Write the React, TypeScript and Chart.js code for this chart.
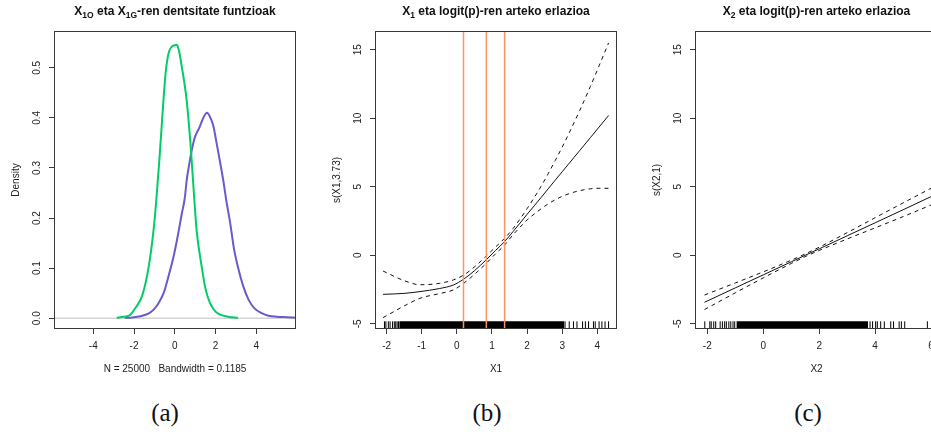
import React, { useEffect, useRef } from "react";
import { Chart, registerables } from "chart.js";

Chart.register(...registerables);

const FONT = '"Liberation Sans", Arial, Helvetica, sans-serif';

// ---------- Panel (a): densities ----------
const greenX = [-2.85, -2.5, -2.18, -1.94, -1.6, -1.28, -1.04, -0.9, -0.75, -0.6, -0.45, -0.3, -0.15, 0.0, 0.1, 0.2, 0.34, 0.58, 0.78, 0.96, 1.07, 1.32, 1.5, 1.73, 2.0, 2.23, 2.6, 3.1];
const greenY = [0.001, 0.003, 0.007, 0.02, 0.045, 0.103, 0.177, 0.24, 0.32, 0.41, 0.49, 0.53, 0.542, 0.545, 0.546, 0.535, 0.503, 0.436, 0.343, 0.236, 0.176, 0.103, 0.06, 0.03, 0.013, 0.007, 0.003, 0.001];
const purpleX = [-2.45, -2.18, -1.69, -1.3, -1.04, -0.8, -0.55, -0.3, -0.06, 0.15, 0.35, 0.48, 0.6, 0.72, 0.84, 1.0, 1.2, 1.4, 1.58, 1.75, 1.9, 2.05, 2.23, 2.4, 2.52, 2.72, 2.9, 3.13, 3.35, 3.62, 3.9, 4.27, 4.6, 5.0, 5.5, 5.95];
const purpleY = [0.0005, 0.001, 0.004, 0.009, 0.017, 0.03, 0.05, 0.085, 0.123, 0.165, 0.21, 0.237, 0.28, 0.31, 0.337, 0.363, 0.38, 0.4, 0.41, 0.4, 0.383, 0.35, 0.31, 0.27, 0.237, 0.19, 0.14, 0.097, 0.065, 0.037, 0.02, 0.01, 0.005, 0.003, 0.002, 0.001];
const aXRange = [-5.93, 5.95];
const aYRange = [-0.0216, 0.5735];
const aXTicks = [-4, -2, 0, 2, 4];
const aXTickLabels = ["-4", "-2", "0", "2", "4"];
const aYTicks = [0, 0.1, 0.2, 0.3, 0.4, 0.5];
const aYTickLabels = ["0.0", "0.1", "0.2", "0.3", "0.4", "0.5"];
const aZeroLineY = 0;

// ---------- Panel (b): s(X1) ----------
const bX = [-2.1, -1.5, -1.05, -0.5, -0.1, 0.19, 0.5, 0.84, 1.1, 1.36, 1.6, 1.8, 2.0, 2.2, 2.4, 2.6, 2.8, 3.0, 3.2, 3.5, 3.8, 4.05, 4.32];
const bFit = [-2.85, -2.78, -2.65, -2.43, -2.17, -1.75, -1.13, -0.32, 0.35, 1.0, 1.73, 2.35, 2.99, 3.6, 4.22, 4.85, 5.48, 6.1, 6.72, 7.65, 8.58, 9.36, 10.2];
const bUpper = [-1.15, -1.85, -2.15, -2.05, -1.8, -1.45, -0.85, -0.05, 0.6, 1.24, 1.95, 2.65, 3.4, 4.2, 5.04, 5.95, 6.91, 7.9, 8.94, 10.58, 12.31, 13.83, 15.5];
const bLower = [-4.55, -3.7, -3.14, -2.8, -2.53, -2.05, -1.4, -0.58, 0.1, 0.75, 1.5, 2.05, 2.58, 3.0, 3.4, 3.75, 4.05, 4.3, 4.5, 4.72, 4.85, 4.89, 4.89];
const bVLines = [0.19, 0.84, 1.36];
const bRugBand = [-1.64, 3.06];
const bRug = [-2.06, -2.02, -1.95, -1.9, -1.83, -1.78, -1.74, -1.7, -1.66, 3.08, 3.2, 3.32, 3.42, 3.58, 3.66, 3.75, 3.89, 3.94, 4.05, 4.13, 4.22, 4.32];
const bXRange = [-2.33, 4.56];
const bXTicks = [-2, -1, 0, 1, 2, 3, 4];
const bXTickLabels = ["-2", "-1", "0", "1", "2", "3", "4"];

// ---------- Panel (c): s(X2) ----------
const cX = [-2.1, -1, 0, 1, 1.5, 2, 3, 4, 5, 6];
const cFit = [-3.43, -2.38, -1.43, -0.48, 0.0, 0.47, 1.42, 2.37, 3.32, 4.28];
const cUpper = [-2.9, -2.02, -1.21, -0.36, 0.1, 0.59, 1.65, 2.74, 3.82, 4.89];
const cLower = [-3.96, -2.74, -1.65, -0.6, -0.1, 0.35, 1.19, 2.0, 2.82, 3.67];
const cRugBand = [-0.96, 3.75];
const cRug = [-2.09, -1.91, -1.86, -1.77, -1.7, -1.54, -1.46, -1.38, -1.32, -1.23, -1.16, -1.08, -1.02, 3.82, 3.91, 4.02, 4.08, 4.2, 4.33, 4.56, 4.66, 4.86, 4.94, 5.06, 5.87];
const cXRange = [-2.44, 6.25];
const cXTicks = [-2, 0, 2, 4, 6];
const cXTickLabels = ["-2", "0", "2", "4", "6"];

// shared y axis of (b) and (c)
const bcYRange = [-5.38, 16.37];
const bcYTicks = [-5, 0, 5, 10, 15];
const bcYTickLabels = ["-5", "0", "5", "10", "15"];
const rugTop = -4.82;

// ---------- Texts ----------
type Seg = { t: string; sub?: boolean };
const titleA: Seg[] = [{ t: "X" }, { t: "1O", sub: true }, { t: " eta X" }, { t: "1G", sub: true }, { t: "-ren dentsitate funtzioak" }];
const titleB: Seg[] = [{ t: "X" }, { t: "1", sub: true }, { t: " eta logit(p)-ren arteko erlazioa" }];
const titleC: Seg[] = [{ t: "X" }, { t: "2", sub: true }, { t: " eta logit(p)-ren arteko erlazioa" }];
const xTitleA = "N = 25000   Bandwidth = 0.1185";
const yTitleA = "Density";
const xTitleB = "X1";
const yTitleB = "s(X1,3.73)";
const xTitleC = "X2";
const yTitleC = "s(X2,1)";
const captions = ["(a)", "(b)", "(c)"];

// ---------- Colours ----------
const GREEN = "#00CD66";
const PURPLE = "#6A5ACD";
const ORANGE = "#FA9462";
const ZEROGRAY = "#BEBEBE";
const INK = "#3a3a3a";

const pts = (xs: number[], ys: number[]) => xs.map((x, i) => ({ x, y: ys[i] }));

function lineDs(data: any[], color: string, width: number, order: number, dash: number[] = [], smooth = true) {
  return {
    data,
    borderColor: color,
    backgroundColor: color,
    borderWidth: width,
    borderDash: dash,
    pointRadius: 0,
    fill: false,
    cubicInterpolationMode: smooth ? "monotone" : "default",
    tension: 0,
    order,
  };
}

function rugDatasets(rug: number[], band: number[], yMin: number) {
  const ticks: any[] = [];
  rug.forEach((r) => {
    ticks.push({ x: r, y: yMin }, { x: r, y: rugTop }, { x: r, y: null });
  });
  return [
    { ...lineDs(ticks, "#000", 1, 5, [], false), spanGaps: false },
    {
      data: [
        { x: band[0], y: rugTop },
        { x: band[1], y: rugTop },
      ],
      borderColor: "#000",
      backgroundColor: "#000",
      borderWidth: 0,
      pointRadius: 0,
      fill: "start",
      order: 5,
    },
  ];
}

const decor = {
  id: "decor",
  afterDraw(chart: any) {
    const o = chart.options.plugins.decor;
    const { ctx, chartArea: a } = chart;
    ctx.save();
    ctx.strokeStyle = INK;
    ctx.lineWidth = 1;
    ctx.strokeRect(a.left + 0.5, a.top + 0.5, a.right - a.left - 1, a.bottom - a.top - 1);
    const cx = (a.left + a.right) / 2;
    // title with subscripts
    const mainF = `bold 12px ${FONT}`;
    const subF = `bold 8.5px ${FONT}`;
    const widths = o.title.map((s: Seg) => {
      ctx.font = s.sub ? subF : mainF;
      return ctx.measureText(s.t).width;
    });
    const total = widths.reduce((p: number, v: number) => p + v, 0);
    let x = cx - total / 2;
    ctx.fillStyle = "#111";
    ctx.textAlign = "left";
    ctx.textBaseline = "alphabetic";
    o.title.forEach((s: Seg, i: number) => {
      ctx.font = s.sub ? subF : mainF;
      ctx.fillText(s.t, x, 14.5 + (s.sub ? 3 : 0));
      x += widths[i];
    });
    // axis titles
    ctx.font = `10px ${FONT}`;
    ctx.fillStyle = "#222";
    ctx.textAlign = "center";
    ctx.textBaseline = "middle";
    ctx.fillText(o.xTitle, cx, 369);
    ctx.translate(a.left - 37.5, (a.top + a.bottom) / 2);
    ctx.rotate(-Math.PI / 2);
    ctx.fillText(o.yTitle, 0, 0);
    ctx.restore();
  },
};

interface Spec {
  left: number;
  width: number;
  padLeft: number;
  padRight: number;
  xRange: number[];
  yRange: number[];
  xTicks: number[];
  xTickLabels: string[];
  yTicks: number[];
  yTickLabels: string[];
  yTickPad: number;
  datasets: any[];
  title: Seg[];
  xTitle: string;
  yTitle: string;
}

function makeConfig(s: Spec): any {
  const grid = {
    display: true,
    drawOnChartArea: false,
    drawTicks: true,
    tickLength: 5,
    color: INK,
    tickColor: INK,
    lineWidth: 1,
  };
  const tickFont = { family: FONT, size: 10 };
  return {
    type: "line",
    data: { datasets: s.datasets },
    options: {
      responsive: false,
      animation: false,
      devicePixelRatio: 1,
      events: [],
      layout: { padding: { left: s.padLeft, right: s.padRight, top: 31, bottom: 21 } },
      plugins: {
        legend: { display: false },
        tooltip: { enabled: false },
        title: { display: false },
        decor: { title: s.title, xTitle: s.xTitle, yTitle: s.yTitle },
      },
      scales: {
        x: {
          type: "linear",
          position: "bottom",
          bounds: "data",
          min: s.xRange[0],
          max: s.xRange[1],
          afterBuildTicks: (sc: any) => {
            sc.ticks = s.xTicks.map((v) => ({ value: v }));
          },
          afterFit: (sc: any) => {
            sc.height = 30;
            sc.paddingLeft = 0;
            sc.paddingRight = 0;
            sc.paddingTop = 0;
            sc.paddingBottom = 0;
          },
          grid,
          border: { display: false },
          ticks: {
            autoSkip: false,
            minRotation: 0,
            maxRotation: 0,
            padding: 6.5,
            color: "#222",
            font: tickFont,
            callback: (_v: any, i: number) => s.xTickLabels[i],
          },
        },
        y: {
          type: "linear",
          position: "left",
          bounds: "data",
          min: s.yRange[0],
          max: s.yRange[1],
          afterBuildTicks: (sc: any) => {
            sc.ticks = s.yTicks.map((v) => ({ value: v }));
          },
          afterFit: (sc: any) => {
            sc.width = 30;
            sc.paddingLeft = 0;
            sc.paddingRight = 0;
            sc.paddingTop = 0;
            sc.paddingBottom = 0;
          },
          grid,
          border: { display: false },
          ticks: {
            autoSkip: false,
            minRotation: 90,
            maxRotation: 90,
            crossAlign: "center",
            padding: s.yTickPad,
            color: "#222",
            font: tickFont,
            callback: (_v: any, i: number) => s.yTickLabels[i],
          },
        },
      },
    },
    plugins: [decor],
  };
}

const specA: Spec = {
  left: 0,
  width: 310,
  padLeft: 24,
  padRight: 14,
  xRange: aXRange,
  yRange: aYRange,
  xTicks: aXTicks,
  xTickLabels: aXTickLabels,
  yTicks: aYTicks,
  yTickLabels: aYTickLabels,
  yTickPad: 4.3,
  datasets: [
    lineDs(pts(greenX, greenY), GREEN, 2, 1),
    lineDs(pts(purpleX, purpleY), PURPLE, 2, 2),
    lineDs([{ x: aXRange[0], y: aZeroLineY }, { x: aXRange[1], y: aZeroLineY }], ZEROGRAY, 1, 3, [], false),
  ],
  title: titleA,
  xTitle: xTitleA,
  yTitle: yTitleA,
};

const specB: Spec = {
  left: 315,
  width: 311,
  padLeft: 30,
  padRight: 9,
  xRange: bXRange,
  yRange: bcYRange,
  xTicks: bXTicks,
  xTickLabels: bXTickLabels,
  yTicks: bcYTicks,
  yTickLabels: bcYTickLabels,
  yTickPad: 5.7,
  datasets: [
    ...bVLines.map((v) =>
      lineDs([{ x: v, y: bcYRange[0] }, { x: v, y: bcYRange[1] }], ORANGE, 1.5, 0, [], false)
    ),
    lineDs(pts(bX, bFit), "#111", 1, 2),
    lineDs(pts(bX, bUpper), "#111", 1, 2, [4, 4]),
    lineDs(pts(bX, bLower), "#111", 1, 2, [4, 4]),
    ...rugDatasets(bRug, bRugBand, bcYRange[0]),
  ],
  title: titleB,
  xTitle: xTitleB,
  yTitle: yTitleB,
};

const specC: Spec = {
  left: 636,
  width: 311,
  padLeft: 29,
  padRight: 9,
  xRange: cXRange,
  yRange: bcYRange,
  xTicks: cXTicks,
  xTickLabels: cXTickLabels,
  yTicks: bcYTicks,
  yTickLabels: bcYTickLabels,
  yTickPad: 5.7,
  datasets: [
    lineDs(pts(cX, cFit), "#111", 1, 2),
    lineDs(pts(cX, cUpper), "#111", 1, 2, [4, 4]),
    lineDs(pts(cX, cLower), "#111", 1, 2, [4, 4]),
    ...rugDatasets(cRug, cRugBand, bcYRange[0]),
  ],
  title: titleC,
  xTitle: xTitleC,
  yTitle: yTitleC,
};

function Panel({ spec }: { spec: Spec }) {
  const ref = useRef<HTMLCanvasElement>(null);
  useEffect(() => {
    const chart = new Chart(ref.current as HTMLCanvasElement, makeConfig(spec));
    return () => chart.destroy();
  }, [spec]);
  return (
    <canvas
      ref={ref}
      width={spec.width}
      height={380}
      style={{ position: "absolute", left: spec.left, top: 0, width: spec.width, height: 380, display: "block" }}
    />
  );
}

const captionX = [165, 487, 808];

export default function App() {
  return (
    <div
      style={{
        position: "fixed",
        left: 0,
        top: 0,
        width: 931,
        height: 440,
        overflow: "hidden",
        background: "#fff",
      }}
    >
      <Panel spec={specA} />
      <Panel spec={specB} />
      <Panel spec={specC} />
      {captions.map((c, i) => (
        <div
          key={c}
          style={{
            position: "absolute",
            left: captionX[i],
            top: 412,
            transform: "translate(-50%, -50%)",
            font: '25px "Liberation Serif", "Times New Roman", serif',
            color: "#111",
            lineHeight: 1,
          }}
        >
          {c}
        </div>
      ))}
    </div>
  );
}
